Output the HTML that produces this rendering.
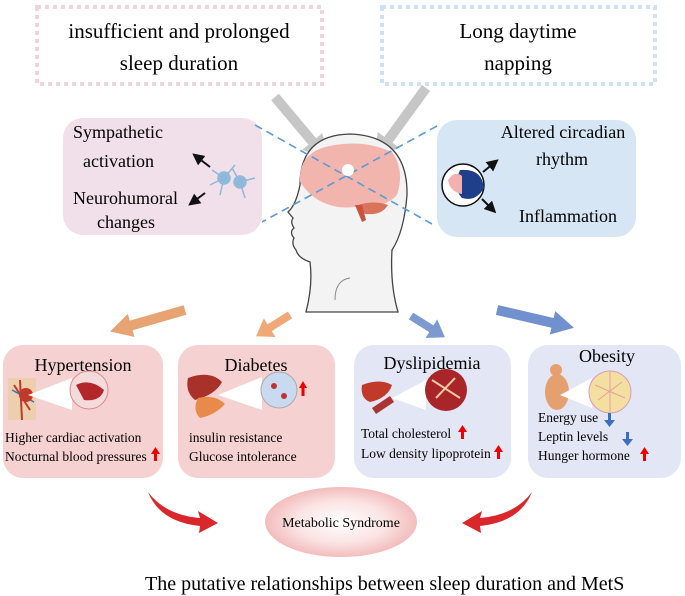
<!DOCTYPE html>
<html><head><meta charset="utf-8"><style>
body{margin:0;background:#fff;}
svg{display:block;font-family:"Liberation Serif",serif;}
</style></head><body>
<svg width="685" height="596" viewBox="0 0 685 596" xmlns="http://www.w3.org/2000/svg">
<defs>
<radialGradient id="ms" cx="50%" cy="50%" r="50%">
<stop offset="0" stop-color="#fff"/><stop offset="0.6" stop-color="#fbe3e3"/><stop offset="1" stop-color="#f3bcbc"/>
</radialGradient>
<marker id="bk" markerWidth="6" markerHeight="6" refX="3" refY="3" orient="auto"><path d="M0,0L6,3L0,6z" fill="#111"/></marker>
</defs>
<rect x="37" y="7" width="285" height="77" fill="none" stroke="#f1d3e0" stroke-width="4" stroke-dasharray="4,4"/>
<text x="179" y="38" font-size="21" text-anchor="middle">insufficient and prolonged</text>
<text x="179" y="70" font-size="21" text-anchor="middle">sleep duration</text>
<rect x="382" y="7" width="273" height="77" fill="none" stroke="#cfe2f5" stroke-width="4" stroke-dasharray="4,4"/>
<text x="518" y="38" font-size="21" text-anchor="middle">Long daytime</text>
<text x="518" y="70" font-size="21" text-anchor="middle">napping</text>
<path transform="translate(275,97) rotate(50)" d="M0,-5 L58,-5 L58,-13 L84,0 L58,13 L58,5 L0,5z" fill="#c6c6c6"/>
<path transform="translate(426,88) rotate(126)" d="M0,-5 L64,-5 L64,-13 L90,0 L64,13 L64,5 L0,5z" fill="#c6c6c6"/>
<rect x="63" y="118" width="199" height="117" rx="20" fill="#f1e0ea"/>
<text x="73" y="138" font-size="18">Sympathetic</text>
<text x="83" y="167" font-size="18">activation</text>
<text x="73" y="204" font-size="18">Neurohumoral</text>
<text x="97" y="228" font-size="18">changes</text>
<line x1="210" y1="167" x2="197" y2="157" stroke="#111" stroke-width="2" marker-end="url(#bk)"/>
<line x1="205" y1="193" x2="193" y2="202" stroke="#111" stroke-width="2" marker-end="url(#bk)"/>
<g fill="#8fb9d8" stroke="#8fb9d8" stroke-width="1.5">
<circle cx="224" cy="178" r="6"/><circle cx="240" cy="182" r="6"/>
<path d="M224,178 L212,170 M224,178 L220,195 M224,178 L235,165 M240,182 L255,178 M240,182 L245,198 M240,182 L232,168 M224,178 L210,185" fill="none"/>
</g>
<rect x="437" y="120" width="199" height="117" rx="20" fill="#d6e6f5"/>
<text x="563" y="138" font-size="18" text-anchor="middle">Altered circadian</text>
<text x="562" y="165" font-size="18" text-anchor="middle">rhythm</text>
<text x="568" y="222" font-size="18" text-anchor="middle">Inflammation</text>
<circle cx="463" cy="185" r="21" fill="#fff" stroke="#111" stroke-width="1.5"/>
<path d="M460,170 Q482,168 484,188 Q476,202 462,198 Q452,188 460,170z" fill="#1f3f8a"/>
<path d="M448,180 Q455,170 462,176 L462,194 Q450,192 448,180z" fill="#f2b0b0"/>
<line x1="483" y1="172" x2="494" y2="163" stroke="#111" stroke-width="2" marker-end="url(#bk)"/>
<line x1="482" y1="199" x2="492" y2="209" stroke="#111" stroke-width="2" marker-end="url(#bk)"/>
<path d="M300,185 Q300,135 350,134 Q408,136 407,195 Q404,232 392,250 Q390,285 398,312 L306,312 Q313,285 310,262 Q298,258 296,250 Q291,244 294,238 Q289,232 294,228 Q290,222 293,218 L288,212 Q296,205 300,185z" fill="#f3f3f3" stroke="#444" stroke-width="1.3"/>
<path d="M300,182 Q298,150 335,145 Q365,140 392,152 Q405,170 397,195 Q385,208 365,205 Q345,210 330,205 Q312,200 300,182z" fill="#f2b5ad"/>
<path d="M358,205 Q375,200 388,205 Q382,215 368,214 Q362,215 358,205z" fill="#d9735c"/>
<path d="M355,205 L362,222 L366,220 L362,205z" fill="#c9533c"/>
<path d="M335,300 Q335,280 350,278" fill="none" stroke="#888" stroke-width="1"/>
<line x1="255" y1="125" x2="432" y2="224" stroke="#5b9bd5" stroke-width="1.6" stroke-dasharray="8,5"/>
<line x1="437" y1="126" x2="262" y2="222" stroke="#5b9bd5" stroke-width="1.6" stroke-dasharray="8,5"/>
<circle cx="348" cy="170" r="6" fill="#fff"/>
<path transform="translate(185,310) rotate(164)" d="M0,-5 L56,-5 L56,-12 L78,0 L56,12 L56,5 L0,5z" fill="#e8a373"/>
<path transform="translate(290,315) rotate(148)" d="M0,-4 L24,-4 L24,-11 L40,0 L24,11 L24,4 L0,4z" fill="#f0a878"/>
<path transform="translate(411,316) rotate(32)" d="M0,-4 L24,-4 L24,-11 L40,0 L24,11 L24,4 L0,4z" fill="#7d9ad0"/>
<path transform="translate(497,310) rotate(13)" d="M0,-5 L57,-5 L57,-12 L79,0 L57,12 L57,5 L0,5z" fill="#7190ce"/>
<rect x="3" y="345" width="160" height="133" rx="20" fill="#f6d1d1"/>
<text x="83" y="371" font-size="18" text-anchor="middle">Hypertension</text>
<rect x="178" y="345" width="157" height="133" rx="20" fill="#f6d1d1"/>
<text x="256" y="371" font-size="18" text-anchor="middle">Diabetes</text>
<rect x="354" y="345" width="157" height="133" rx="20" fill="#e3e6f4"/>
<text x="432" y="369" font-size="18" text-anchor="middle">Dyslipidemia</text>
<rect x="528" y="345" width="153" height="133" rx="20" fill="#e3e6f4"/>
<text x="607" y="362" font-size="18" text-anchor="middle">Obesity</text>
<g>
<path d="M8,378 L36,378 L36,420 L8,420z" fill="#e8cfa0" opacity="0.7"/>
<path d="M20,380 L22,420 M14,385 L30,410" stroke="#c0392b" stroke-width="2"/>
<path d="M12,390 L34,402" stroke="#3a6fc0" stroke-width="1.5"/>
<circle cx="26" cy="395" r="7" fill="#c0392b"/>
<path d="M28,395 L72,378 L72,410z" fill="#fff"/>
<circle cx="89" cy="390" r="19" fill="#f4dada" stroke="#d88" />
<path d="M76,385 Q90,378 104,390 Q100,402 84,400z" fill="#b3262a"/>
</g>
<g>
<path d="M188,378 Q210,370 222,382 Q215,395 195,400 Q185,392 188,378z" fill="#a8322a"/>
<path d="M198,398 Q215,394 225,404 Q215,415 200,418 Q192,410 198,398z" fill="#e88b4a"/>
<path d="M218,395 L262,377 L262,410z" fill="#fff"/>
<circle cx="279" cy="390" r="18" fill="#c9d9ef" stroke="#aaa"/>
<circle cx="274" cy="386" r="3" fill="#b33"/><circle cx="284" cy="396" r="3" fill="#b33"/>
<path d="M303,386 L303,396" stroke="#e00" stroke-width="3"/><path d="M299,388 L303,381 L307,388z" fill="#e00"/>
</g>
<g>
<path d="M362,385 Q380,378 392,385 Q388,398 370,402 Q360,398 362,385z" fill="#c0392b"/>
<path d="M372,408 L390,396 L394,402 L376,414z" fill="#a33"/>
<path d="M392,398 L426,380 L426,410z" fill="#fff"/>
<circle cx="446" cy="390" r="21" fill="#a8262a"/>
<path d="M432,380 L460,398 M436,398 L455,378" stroke="#f0c9a0" stroke-width="2"/>
</g>
<g>
<ellipse cx="557" cy="392" rx="12" ry="18" fill="#e6a070"/>
<circle cx="556" cy="370" r="6" fill="#e6a070"/>
<path d="M560,395 L592,378 L592,408z" fill="#fff"/>
<circle cx="610" cy="392" r="21" fill="#f3df9f" stroke="#d9b"/>
<path d="M595,385 L625,398 M598,400 L622,382 M610,372 L610,412" stroke="#e5a0a0" stroke-width="1"/>
</g>
<g font-size="13.5">
<text x="5" y="442">Higher cardiac activation</text>
<text x="5" y="461">Nocturnal blood pressures</text>
<text x="189" y="442">insulin resistance</text>
<text x="189" y="461">Glucose intolerance</text>
<text x="361" y="438">Total cholesterol</text>
<text x="361" y="458">Low density lipoprotein</text>
<text x="538" y="422">Energy use</text>
<text x="538" y="441">Leptin levels</text>
<text x="538" y="460">Hunger hormone</text>
</g>
<g fill="#e00">
<rect x="154" y="452" width="3" height="9"/><path d="M151,454 L155.5,447 L160,454z"/>
<rect x="461" y="430" width="3" height="9"/><path d="M458,432 L462.5,425 L467,432z"/>
<rect x="497" y="450" width="3" height="9"/><path d="M494,452 L498.5,445 L503,452z"/>
<rect x="643" y="452" width="3" height="9"/><path d="M640,454 L644.5,447 L649,454z"/>
</g>
<g fill="#3a6fc0">
<rect x="608" y="413" width="3" height="8"/><path d="M604,420 L609.5,427 L615,420z"/>
<rect x="626" y="432" width="3" height="8"/><path d="M622,439 L627.5,446 L633,439z"/>
</g>
<ellipse cx="341" cy="522" rx="76" ry="35" fill="url(#ms)"/>
<text x="341" y="527" font-size="14" text-anchor="middle">Metabolic Syndrome</text>
<path d="M148,492 Q165,515 200,518 L198,511 L218,523 L199,533 L200,526 Q160,522 148,492z" fill="#d9272b"/>
<path d="M532,492 Q515,515 480,518 L482,511 L462,523 L481,533 L480,526 Q520,522 532,492z" fill="#d9272b"/>
<text x="145" y="590" font-size="20">The putative relationships between sleep duration and MetS</text>
</svg>
</body></html>
